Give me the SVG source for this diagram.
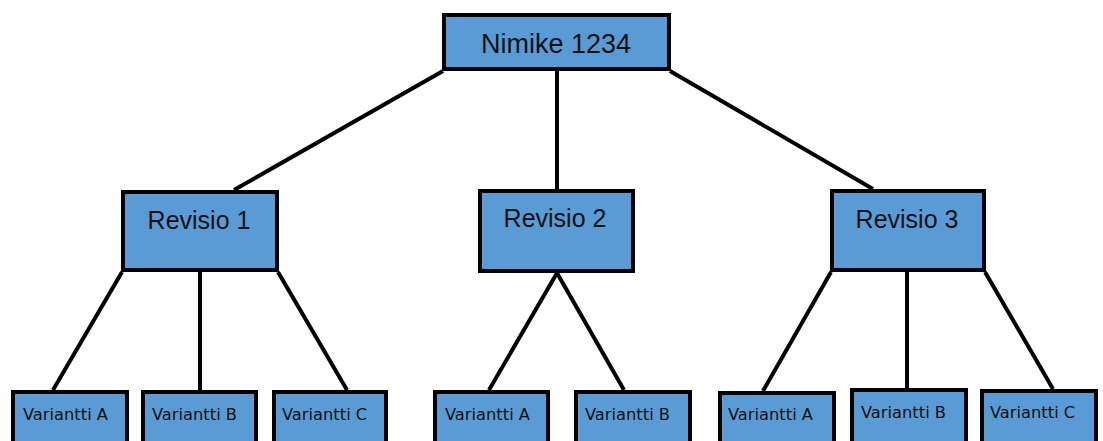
<svg xmlns="http://www.w3.org/2000/svg" width="1103" height="441" viewBox="0 0 1103 441">
  <style>
    .box { fill: #5B9BD5; stroke: #000; stroke-width: 4; }
    .link { stroke: #000; stroke-width: 4; fill: none; stroke-linecap: butt; }
    .big { font-family: "Liberation Sans", Arial, sans-serif; font-size: 25px; fill: #111; text-anchor: middle; }
    .root { font-size: 27px; }
    .small { font-family: "DejaVu Sans", Verdana, sans-serif; font-size: 16.3px; fill: #111; }
  </style>
  <rect width="1103" height="441" fill="#fff"/>

  <!-- connectors -->
  <g id="connectors">
    <line class="link" x1="443" y1="71" x2="234" y2="190"/>
    <line class="link" x1="557" y1="71" x2="557" y2="189"/>
    <line class="link" x1="670" y1="71" x2="873" y2="189"/>

    <line class="link" x1="122" y1="272" x2="53" y2="390"/>
    <line class="link" x1="200" y1="270" x2="200" y2="390"/>
    <line class="link" x1="278" y1="272" x2="347" y2="390"/>

    <line class="link" x1="557" y1="273" x2="489" y2="390"/>
    <line class="link" x1="557" y1="273" x2="624" y2="390"/>

    <line class="link" x1="831" y1="272" x2="763" y2="391"/>
    <line class="link" x1="907" y1="272" x2="907" y2="388"/>
    <line class="link" x1="985" y1="272" x2="1053" y2="389"/>
  </g>

  <!-- root -->
  <g id="nimike">
    <rect class="box" x="444" y="15" width="225" height="54"/>
    <text class="big root" x="556" y="53">Nimike 1234</text>
  </g>

  <!-- revisions -->
  <g id="revisio1">
    <rect class="box" x="123" y="192" width="154" height="78"/>
    <text class="big" x="199" y="229">Revisio 1</text>
  </g>
  <g id="revisio2">
    <rect class="box" x="480" y="191" width="153" height="80"/>
    <text class="big" x="555" y="227">Revisio 2</text>
  </g>
  <g id="revisio3">
    <rect class="box" x="832" y="191" width="152" height="79"/>
    <text class="big" x="907" y="228">Revisio 3</text>
  </g>

  <!-- variants of Revisio 1 -->
  <g id="r1-variantti-a">
    <rect class="box" x="13" y="392" width="114" height="60"/>
    <text class="small" x="23" y="420">Variantti A</text>
  </g>
  <g id="r1-variantti-b">
    <rect class="box" x="143" y="392" width="113" height="60"/>
    <text class="small" x="152" y="420">Variantti B</text>
  </g>
  <g id="r1-variantti-c">
    <rect class="box" x="274" y="392" width="112" height="60"/>
    <text class="small" x="282" y="420">Variantti C</text>
  </g>

  <!-- variants of Revisio 2 -->
  <g id="r2-variantti-a">
    <rect class="box" x="435" y="392" width="113" height="60"/>
    <text class="small" x="445" y="420">Variantti A</text>
  </g>
  <g id="r2-variantti-b">
    <rect class="box" x="576" y="392" width="114" height="60"/>
    <text class="small" x="585" y="420">Variantti B</text>
  </g>

  <!-- variants of Revisio 3 -->
  <g id="r3-variantti-a">
    <rect class="box" x="720" y="393" width="114" height="60"/>
    <text class="small" x="728" y="420">Variantti A</text>
  </g>
  <g id="r3-variantti-b">
    <rect class="box" x="852" y="390" width="114" height="60"/>
    <text class="small" x="861" y="418">Variantti B</text>
  </g>
  <g id="r3-variantti-c">
    <rect class="box" x="982" y="391" width="114" height="60"/>
    <text class="small" x="990" y="418">Variantti C</text>
  </g>
</svg>
